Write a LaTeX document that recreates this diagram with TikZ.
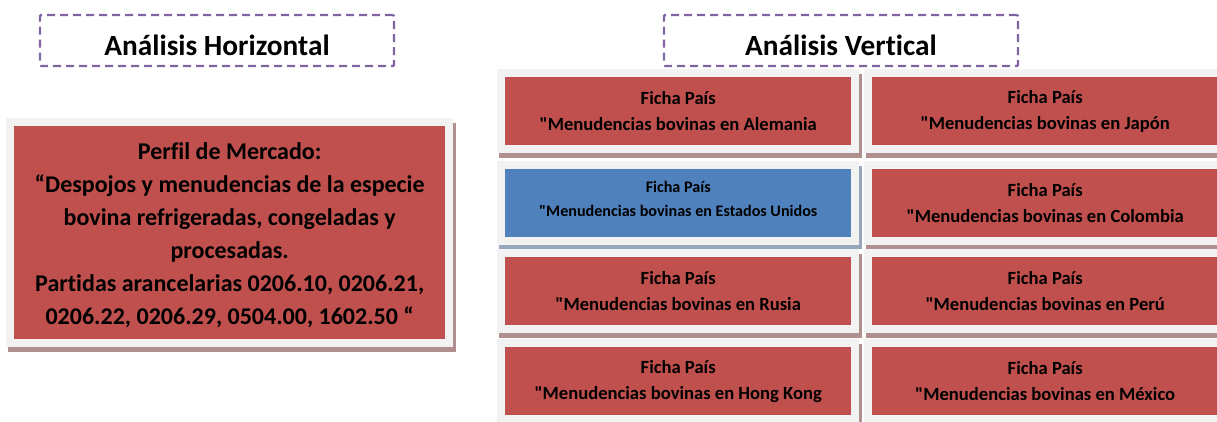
\documentclass[tikz,border=0pt]{standalone}
\usepackage{fontspec}
\setmainfont[Ligatures={TeXOff,NoCommon}]{Carlito}
\definecolor{cardred}{HTML}{C0504D}
\definecolor{cardblue}{HTML}{4F81BD}
\definecolor{shred}{HTML}{B08F8E}
\definecolor{shblue}{HTML}{98A7BC}
\definecolor{framegray}{HTML}{F2F2F2}
\definecolor{dashpurple}{HTML}{8064A2}
\tikzset{
  x=1pt,y=-1pt,
  titlebox/.style={draw=dashpurple,line width=2.2pt,dash pattern=on 8pt off 5pt,rounded corners=1pt,minimum width=354pt,minimum height=51pt,inner sep=0pt,font=\fontsize{29.3}{32}\selectfont\bfseries,text=black},
  cardbox/.style={inner sep=0pt,align=center,minimum width=346pt,minimum height=68pt,fill=cardred,draw=none,text=black,font=\fontsize{18.6}{26}\selectfont\bfseries},
  bluecard/.style={cardbox,fill=cardblue,font=\fontsize{16.1}{24}\selectfont\bfseries},
  mainbox/.style={cardbox,minimum width=431pt,minimum height=213.5pt,font=\fontsize{24}{33}\selectfont\bfseries}
}
% #1 name, #2 left, #3 top, #4 width, #5 height of the coloured face, #6 shadow colour, #7 node style, #8 text
\newcommand{\framedcard}[8]{%
  \fill[#6] (#2-6,#3-3) rectangle ++(#4+17,#5+16);
  \fill[framegray] (#2-8,#3-8) rectangle (#2+#4+7.5,#3+#5+8);
  \fill[white] (#2-8,#3+#5+8) rectangle (#2-6,#3+#5+13);
  \fill[white] (#2+#4+7.5,#3-8) rectangle (#2+#4+11.5,#3-3);
  \node[#7,anchor=north west] (#1) at (#2,#3) {#8};
}
\newcommand{\ficha}[1]{\rule{0pt}{13.5pt}Ficha País\\"Menudencias bovinas en #1}
\begin{document}
\begin{tikzpicture}
\useasboundingbox (0,0) rectangle (1217,421);
\begin{scope}
\clip (0,0) rectangle (1217,421);
\node[titlebox] (th) at (217,40.5) {\rule{0pt}{30pt}Análisis Horizontal};
\node[titlebox] (tv) at (841,40.5) {\rule{0pt}{30pt}Análisis Vertical};
\framedcard{main}{14}{125.5}{431}{213.5}{shred}{mainbox}{\rule{0pt}{22pt}Perfil de Mercado:\\“Despojos y menudencias de la especie\\bovina refrigeradas, congeladas y\\procesadas.\\Partidas arancelarias 0206.10, 0206.21,\\0206.22, 0206.29, 0504.00, 1602.50 “}
\framedcard{de}{505}{77}{346}{68}{shred}{cardbox}{\ficha{Alemania}}
\framedcard{us}{505}{169}{346}{68}{shblue}{bluecard}{Ficha País\\"Menudencias bovinas en Estados Unidos\rule[-8pt]{0pt}{1pt}}
\framedcard{ru}{505}{257}{346}{68}{shred}{cardbox}{\ficha{Rusia}}
\framedcard{hk}{505}{347}{346}{68}{shred}{cardbox}{\ficha{Hong Kong}}
\framedcard{jp}{872}{77}{346}{68}{shred}{cardbox}{\ficha{Japón}}
\framedcard{co}{872}{169}{346}{68}{shred}{cardbox}{\ficha{Colombia}}
\framedcard{pe}{872}{257}{346}{68}{shred}{cardbox}{\ficha{Perú}}
\framedcard{mx}{872}{347}{346}{68}{shred}{cardbox}{\ficha{México}}
\end{scope}
\end{tikzpicture}
\end{document}
